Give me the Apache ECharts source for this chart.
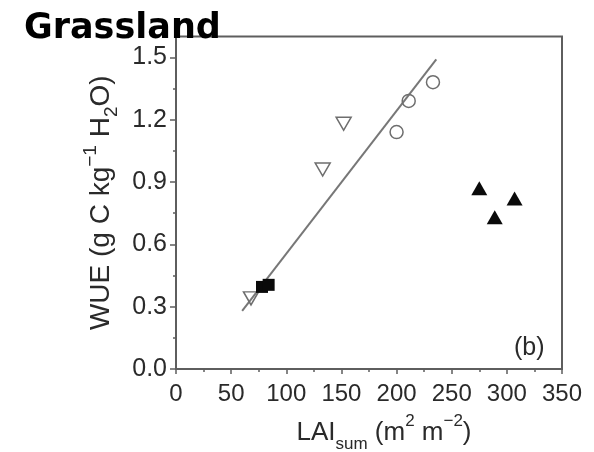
<!DOCTYPE html>
<html>
<head>
<meta charset="utf-8">
<script src="https://cdn.jsdelivr.net/npm/echarts@6/dist/echarts.min.js"></script>
<style>
  html, body { margin: 0; padding: 0; background: #fff; }
  #chart { width: 594px; height: 452px; }
</style>
</head>
<body>
<div id="chart"></div>
<script>
// Axis ticks
const xTicks = [0, 50, 100, 150, 200, 250, 300, 350];
const yTicks = [0, 0.3, 0.6, 0.9, 1.2, 1.5];
const yMinorTicks = [0.15, 0.45, 0.75, 1.05, 1.35];

// Open downward triangles
const openTriX = [68, 133, 152];
const openTriY = [0.34, 0.96, 1.18];

// Open circles
const circleX = [200, 211, 233];
const circleY = [1.14, 1.29, 1.38];

// Filled squares
const squareX = [78, 84];
const squareY = [0.395, 0.405];

// Filled triangles
const fillTriX = [275, 289, 307];
const fillTriY = [0.87, 0.73, 0.82];

// Regression line end points
const fitX = [60, 236];
const fitY = [0.28, 1.49];

const pairs = (xs, ys) => xs.map((x, i) => [x, ys[i]]);

const FONT = 'Liberation Sans';
const AXIS_COLOR = '#5e5e5e';
const TEXT_COLOR = '#2a2a2a';
const OPEN_COLOR = '#6e6e6e';

const chart = echarts.init(document.getElementById('chart'), null, { renderer: 'canvas' });

const richLabels = (size) => ({
  sub: { fontFamily: FONT, fontSize: size, color: TEXT_COLOR, verticalAlign: 'bottom', lineHeight: 40 },
  sup: { fontFamily: FONT, fontSize: size, color: TEXT_COLOR, verticalAlign: 'top', lineHeight: 40 }
});

chart.setOption({
  backgroundColor: '#ffffff',
  animation: false,
  title: {
    text: 'Grassland',
    left: 19,
    top: 6,
    textStyle: { fontFamily: 'DejaVu Sans', fontWeight: 'bold', fontSize: 35, color: '#000' }
  },
  grid: {
    left: 176, right: 32, top: 36.5, bottom: 83,
    outerBoundsMode: 'none',
    containLabel: false,
    show: true, borderColor: AXIS_COLOR, borderWidth: 2, backgroundColor: 'transparent'
  },
  xAxis: {
    type: 'value',
    min: xTicks[0], max: xTicks[xTicks.length - 1], interval: 50,
    axisLine: { lineStyle: { color: AXIS_COLOR, width: 2 } },
    axisTick: { inside: false, length: 5, lineStyle: { color: AXIS_COLOR, width: 1.5 } },
    minorTick: { show: true, splitNumber: 2, length: 3, lineStyle: { color: AXIS_COLOR, width: 1.5 } },
    splitLine: { show: false },
    axisLabel: {
      margin: 13, color: TEXT_COLOR, fontFamily: FONT, fontSize: 24,
      customValues: xTicks
    },
    name: 'LAI{sub|sum} (m{sup|2} m{sup|−2})',
    nameLocation: 'middle',
    nameGap: 44,
    nameTextStyle: {
      fontFamily: FONT, fontSize: 26, color: TEXT_COLOR, lineHeight: 40,
      padding: [0, 0, 0, 30],
      rich: richLabels(17)
    }
  },
  yAxis: [
    {
      type: 'value',
      min: 0, max: 1.6,
      axisLine: { lineStyle: { color: AXIS_COLOR, width: 2 } },
      axisTick: { inside: false, length: 6, lineStyle: { color: AXIS_COLOR, width: 1.5 }, customValues: yTicks },
      splitLine: { show: false },
      axisLabel: {
        margin: 9, color: TEXT_COLOR, fontFamily: FONT, fontSize: 25,
        customValues: yTicks,
        formatter: v => v.toFixed(1)
      },
      name: 'WUE (g C kg{sup|−1} H{sub|2}O)',
      nameLocation: 'middle',
      nameRotate: 90,
      nameGap: 52,
      nameTextStyle: {
        fontFamily: FONT, fontSize: 28, color: TEXT_COLOR, lineHeight: 40,
        rich: richLabels(19)
      }
    },
    {
      // minor ticks on the left axis
      type: 'value',
      min: 0, max: 1.6,
      position: 'left',
      axisLine: { show: false },
      axisTick: { inside: false, length: 3, lineStyle: { color: AXIS_COLOR, width: 1.5 }, customValues: yMinorTicks },
      axisLabel: { show: false },
      splitLine: { show: false }
    }
  ],
  graphic: [
    {
      type: 'text',
      left: 514,
      top: 336,
      style: { text: '(b)', fontFamily: FONT, fontSize: 25, fill: TEXT_COLOR }
    }
  ],
  series: [
    {
      type: 'line',
      data: pairs(fitX, fitY),
      symbol: 'none',
      lineStyle: { color: '#777', width: 2 },
      z: 2
    },
    {
      type: 'scatter',
      data: pairs(openTriX, openTriY),
      symbol: 'triangle',
      symbolRotate: 180,
      symbolSize: [15, 13],
      itemStyle: { color: 'transparent', borderColor: OPEN_COLOR, borderWidth: 1.5, opacity: 1 },
      z: 3
    },
    {
      type: 'scatter',
      data: pairs(circleX, circleY),
      symbol: 'circle',
      symbolSize: 13,
      itemStyle: { color: 'transparent', borderColor: OPEN_COLOR, borderWidth: 1.5, opacity: 1 },
      z: 3
    },
    {
      type: 'scatter',
      data: pairs(squareX, squareY),
      symbol: 'rect',
      symbolSize: 12,
      itemStyle: { color: '#0a0a0a', opacity: 1 },
      z: 4
    },
    {
      type: 'scatter',
      data: pairs(fillTriX, fillTriY),
      symbol: 'triangle',
      symbolSize: [16, 14],
      itemStyle: { color: '#0a0a0a', opacity: 1 },
      z: 4
    }
  ]
});
</script>
</body>
</html>
